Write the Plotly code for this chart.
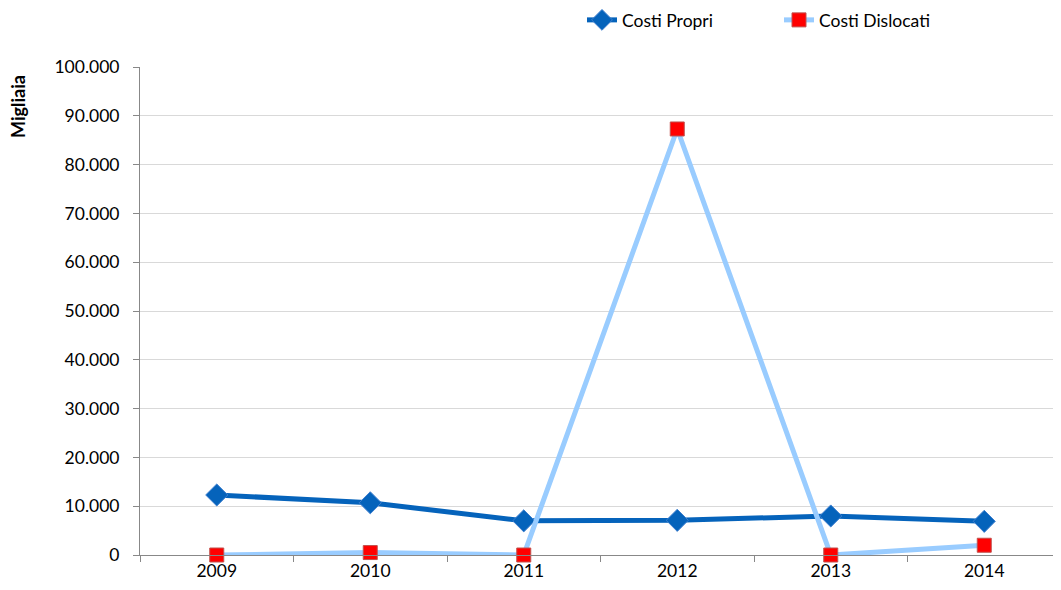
import plotly.graph_objects as go

years = ["2009", "2010", "2011", "2012", "2013", "2014"]
costi_propri = [12300, 10700, 7000, 7100, 8000, 6900]
costi_dislocati = [0, 500, 0, 87300, 0, 2000]

font_family = "Lato, 'Open Sans', sans-serif"

# page body has an 8px default margin; compensate so plot lands at the same pixels
W, H = 1053, 582
L, R, T, B = 132, 0, 59, 35
PW = W - L - R
PH = H - T - B

fig = go.Figure()
fig.add_trace(go.Scatter(
    x=years, y=costi_propri, name="Costi Propri", mode="lines+markers",
    line=dict(color="#0563BB", width=5),
    marker=dict(symbol="diamond", size=17, color="#0563BB", line=dict(color="#3F7FCF", width=1)),
    legend="legend", cliponaxis=False,
))
fig.add_trace(go.Scatter(
    x=years, y=costi_dislocati, name="Costi Dislocati", mode="lines+markers",
    line=dict(color="#99CCFF", width=5),
    marker=dict(symbol="square", size=14, color="#FF0000", line=dict(color="#C0504D", width=1)),
    legend="legend2", cliponaxis=False,
))

leg_common = dict(orientation="h", xanchor="left", y=1 + 47 / PH, yanchor="middle",
                  font=dict(size=17.5), bgcolor="rgba(0,0,0,0)", borderwidth=0)

fig.update_layout(
    width=W, height=H,
    margin=dict(l=L, r=R, t=T, b=B, autoexpand=False),
    paper_bgcolor="white", plot_bgcolor="white",
    separators=",.",
    font=dict(family=font_family, size=17.5, color="#000000"),
    showlegend=True,
    legend=dict(x=(582 - 140) / PW, **leg_common),
    legend2=dict(x=(779 - 140) / PW, **leg_common),
    xaxis=dict(
        type="category", range=[-0.5, 5.5],
        showline=True, linecolor="#888888", linewidth=1,
        ticks="outside", tickson="boundaries", ticklen=6, tickcolor="#888888",
        showgrid=False, tickfont=dict(size=17.5), automargin=False,
    ),
    yaxis=dict(
        range=[0, 100000], dtick=10000, tickformat=",.0f",
        showline=True, linecolor="#888888", linewidth=1,
        ticks="outside", ticklen=6, tickcolor="#888888", ticklabelstandoff=10,
        showgrid=True, gridcolor="#D9D9D9", gridwidth=1,
        zeroline=False, tickfont=dict(size=17.5), automargin=False,
    ),
    annotations=[dict(
        text="<b>Migliaia</b>", textangle=-90, xref="paper", yref="paper",
        x=(18 - 140) / PW, y=(555 - 107) / PH, xanchor="center", yanchor="middle",
        showarrow=False, font=dict(size=18),
    )],
)

fig.write_html("out.html")
